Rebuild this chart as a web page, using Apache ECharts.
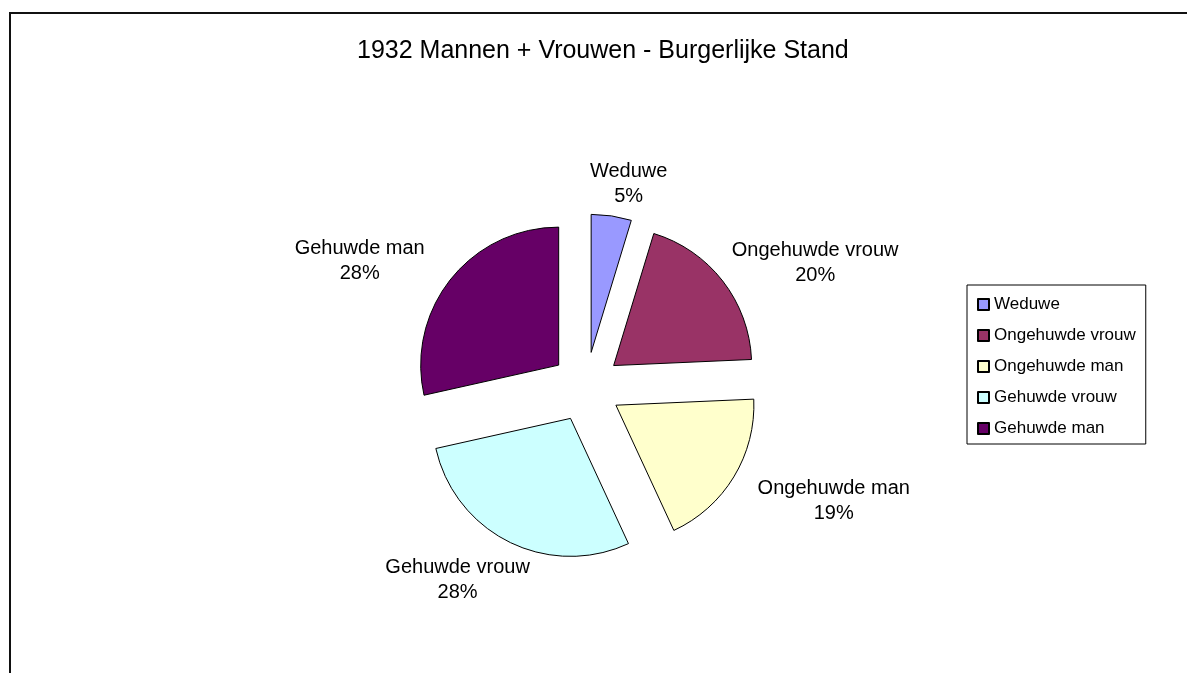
<!DOCTYPE html>
<html>
<head>
<meta charset="utf-8">
<title>1932 Mannen + Vrouwen - Burgerlijke Stand</title>
<script src="https://cdn.jsdelivr.net/npm/echarts@6/dist/echarts.min.js"></script>
<style>
html, body { margin: 0; padding: 0; background: #fff; overflow: hidden; }
#main { width: 1187px; height: 673px; }
/* rand van het grafiekvak (links en boven zichtbaar) */
#frame { position: absolute; left: 9px; top: 12px; width: 1300px; height: 800px;
         border-left: 2px solid #111; border-top: 2px solid #111; pointer-events: none; }
</style>
</head>
<body>
<div id="main"></div>
<div id="frame"></div>
<script>
var categories = ['Weduwe', 'Ongehuwde vrouw', 'Ongehuwde man', 'Gehuwde vrouw', 'Gehuwde man'];
var values = [4.7, 19.6, 18.8, 28.4, 28.5];
var colors = ['#9999FF', '#993366', '#FFFFCC', '#CCFFFF', '#660066'];

var font = 'Liberation Sans, Arial, sans-serif';
var pieCenter = [586, 387];
var pieRadius = 138;
var lineLen = 10;

var pieData = [];
for (var i = 0; i < categories.length; i++) {
    pieData.push({ name: categories[i], value: values[i], selected: true });
}

var myChart = echarts.init(document.getElementById('main'));
var option = {
    animation: false,
    color: colors,
    title: {
        text: '1932 Mannen + Vrouwen - Burgerlijke Stand',
        left: 357,
        top: 39,
        padding: 0,
        textStyle: { fontFamily: font, fontSize: 25, fontWeight: 'normal', color: '#000' }
    },
    legend: {
        orient: 'vertical',
        left: 967,
        top: 285,
        padding: [11, 10, 7, 10],
        borderColor: '#000',
        borderWidth: 1,
        itemWidth: 11,
        itemHeight: 11,
        itemGap: 14,
        icon: 'rect',
        selectedMode: false,
        textStyle: { fontFamily: font, fontSize: 17, color: '#000' },
        data: categories
    },
    series: [
        {
            type: 'pie',
            center: pieCenter,
            radius: pieRadius,
            startAngle: 90,
            clockwise: true,
            percentPrecision: 0,
            selectedMode: 'multiple',
            selectedOffset: 35,
            avoidLabelOverlap: false,
            emphasis: { disabled: true },
            itemStyle: { borderColor: '#000', borderWidth: 1 },
            label: {
                show: true,
                position: 'outside',
                formatter: '{b}\n{d}%',
                fontFamily: font,
                fontSize: 20,
                lineHeight: 25,
                color: '#000',
                distanceToLabelLine: 0
            },
            labelLine: { show: false, length: lineLen, length2: 0 },
            // labels gecentreerd buiten de taart, zoals in Excel
            labelLayout: function (p) {
                var r = p.labelRect;
                var px = p.align === 'right' ? r.x + r.width : r.x;
                var py = r.y + r.height / 2;
                var ux = (px - pieCenter[0]) / (pieRadius + lineLen);
                var uy = (py - pieCenter[1]) / (pieRadius + lineLen);
                return {
                    dx: 107 * ux,
                    dy: 27 * uy + 5,
                    align: 'center',
                    verticalAlign: 'middle'
                };
            },
            data: pieData
        }
    ]
};
myChart.setOption(option);
</script>
</body>
</html>
